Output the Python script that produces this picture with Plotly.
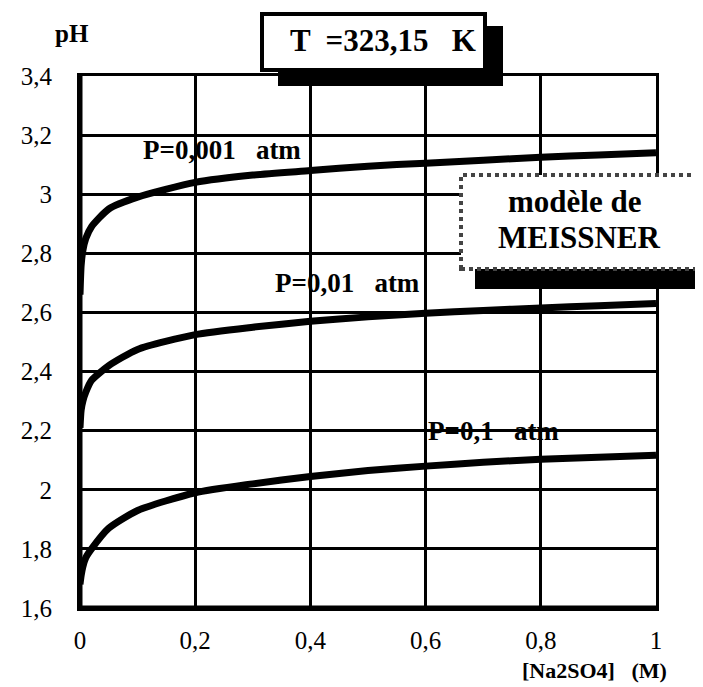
import plotly.graph_objects as go

# ---- data ----
conc = [0, 0.002, 0.005, 0.01, 0.02, 0.05, 0.1, 0.2, 0.3, 0.4, 0.5, 0.6, 0.7, 0.8, 0.9, 1.0]
ph_p0001 = [2.66, 2.76, 2.81, 2.85, 2.89, 2.95, 2.99, 3.04, 3.065, 3.08, 3.095, 3.105, 3.115, 3.125, 3.133, 3.14]
ph_p001 = [2.21, 2.27, 2.30, 2.33, 2.37, 2.42, 2.475, 2.525, 2.55, 2.57, 2.585, 2.597, 2.607, 2.615, 2.623, 2.63]
ph_p01 = [1.68, 1.71, 1.74, 1.77, 1.80, 1.87, 1.93, 1.99, 2.02, 2.045, 2.065, 2.08, 2.093, 2.103, 2.11, 2.117]

series_labels = ["P=0,001   atm", "P=0,01   atm", "P=0,1   atm"]
label_pos_x = [0.106, 0.335, 0.60]
label_pos_y = [3.15, 2.70, 2.20]

x_ticks = [0, 0.2, 0.4, 0.6, 0.8, 1]
x_ticktext = ["0", "0,2", "0,4", "0,6", "0,8", "1"]
y_ticks = [1.6, 1.8, 2.0, 2.2, 2.4, 2.6, 2.8, 3.0, 3.2, 3.4]
y_ticktext = ["1,6", "1,8", "2", "2,2", "2,4", "2,6", "2,8", "3", "3,2", "3,4"]

title_text = "T  =323,15   K"
model_line1 = "modèle de"
model_line2 = "MEISSNER"
x_title = "[Na2SO4]   (M)"
y_title = "pH"

SERIF = "Liberation Serif, Times New Roman, serif"

# plot area in pixels: x 72..648, y 68..600
W, H = 703, 687
L, R, T, B = 72, 55, 68, 87
PW, PH = W - L - R, H - T - B


def px(xp):
    return (xp - L) / PW


def py(yp):
    return (H - B - yp) / PH


fig = go.Figure()
for ys in (ph_p0001, ph_p001, ph_p01):
    fig.add_trace(go.Scatter(x=conc, y=ys, mode="lines",
                             line=dict(color="black", width=7, shape="spline", smoothing=0.6),
                             showlegend=False, hoverinfo="skip"))

annotations = []
for t, xx, yy in zip(series_labels, label_pos_x, label_pos_y):
    annotations.append(dict(x=xx, y=yy, xref="x", yref="y", text="<b>" + t + "</b>",
                            showarrow=False, xanchor="left", yanchor="middle",
                            font=dict(family=SERIF, size=27, color="black")))

annotations.append(dict(x=px(64), y=py(26), xref="paper", yref="paper", text="<b>" + y_title + "</b>",
                        showarrow=False, xanchor="center", yanchor="middle",
                        font=dict(family=SERIF, size=25, color="black")))
annotations.append(dict(x=px(661), y=py(677), xref="paper", yref="paper", text="<b>" + x_title + "</b>",
                        showarrow=False, xanchor="right", yanchor="bottom",
                        font=dict(family=SERIF, size=22, color="black")))
annotations.append(dict(x=px(375), y=py(33), xref="paper", yref="paper", text="<b>" + title_text + "</b>",
                        showarrow=False, xanchor="center", yanchor="middle",
                        font=dict(family=SERIF, size=31, color="black")))
annotations.append(dict(x=px(566), y=py(193), xref="paper", yref="paper", text="<b>" + model_line1 + "</b>",
                        showarrow=False, xanchor="center", yanchor="middle",
                        font=dict(family=SERIF, size=31, color="black")))
annotations.append(dict(x=px(571), y=py(229), xref="paper", yref="paper", text="<b>" + model_line2 + "</b>",
                        showarrow=False, xanchor="center", yanchor="middle",
                        font=dict(family=SERIF, size=31, color="black")))

shapes = [
    # title box shadow and box
    dict(type="rect", xref="paper", yref="paper", x0=px(270), x1=px(495), y0=py(78), y1=py(18),
         fillcolor="black", line=dict(width=0), layer="above"),
    dict(type="rect", xref="paper", yref="paper", x0=px(254), x1=px(477), y0=py(62), y1=py(6),
         fillcolor="white", line=dict(color="black", width=4), layer="above"),
    # model box shadow and box
    dict(type="rect", xref="paper", yref="paper", x0=px(467), x1=px(708), y0=py(281), y1=py(182),
         fillcolor="black", line=dict(width=0), layer="above"),
    dict(type="rect", xref="paper", yref="paper", x0=px(453), x1=px(689), y0=py(261), y1=py(167),
         fillcolor="white", line=dict(color="#444444", width=4, dash="dot"), layer="above"),
    # thick left and bottom axes
    dict(type="line", xref="paper", yref="paper", x0=0, x1=0, y0=0, y1=1,
         line=dict(color="black", width=5), layer="above"),
    dict(type="line", xref="paper", yref="paper", x0=0, x1=1, y0=0, y1=0,
         line=dict(color="black", width=5), layer="above"),
]

fig.update_layout(
    width=W, height=H,
    margin=dict(l=L, r=R, t=T, b=B, pad=0),
    paper_bgcolor="white", plot_bgcolor="white",
    annotations=annotations, shapes=shapes,
    xaxis=dict(range=[0, 1], tickvals=x_ticks, ticktext=x_ticktext,
               showgrid=True, gridcolor="black", gridwidth=2.5,
               showline=True, linecolor="black", linewidth=3, mirror=True,
               ticks="inside", ticklen=6, tickwidth=3, tickcolor="black",
               zeroline=False, ticklabelstandoff=8,
               tickfont=dict(family=SERIF, size=25, color="black")),
    yaxis=dict(range=[1.6, 3.4], tickvals=y_ticks, ticktext=y_ticktext,
               showgrid=True, gridcolor="black", gridwidth=2.5,
               showline=True, linecolor="black", linewidth=3, mirror=True,
               ticks="inside", ticklen=6, tickwidth=3, tickcolor="black",
               zeroline=False, ticklabelstandoff=20,
               tickfont=dict(family=SERIF, size=25, color="black")),
)

fig.write_html("out.html")
